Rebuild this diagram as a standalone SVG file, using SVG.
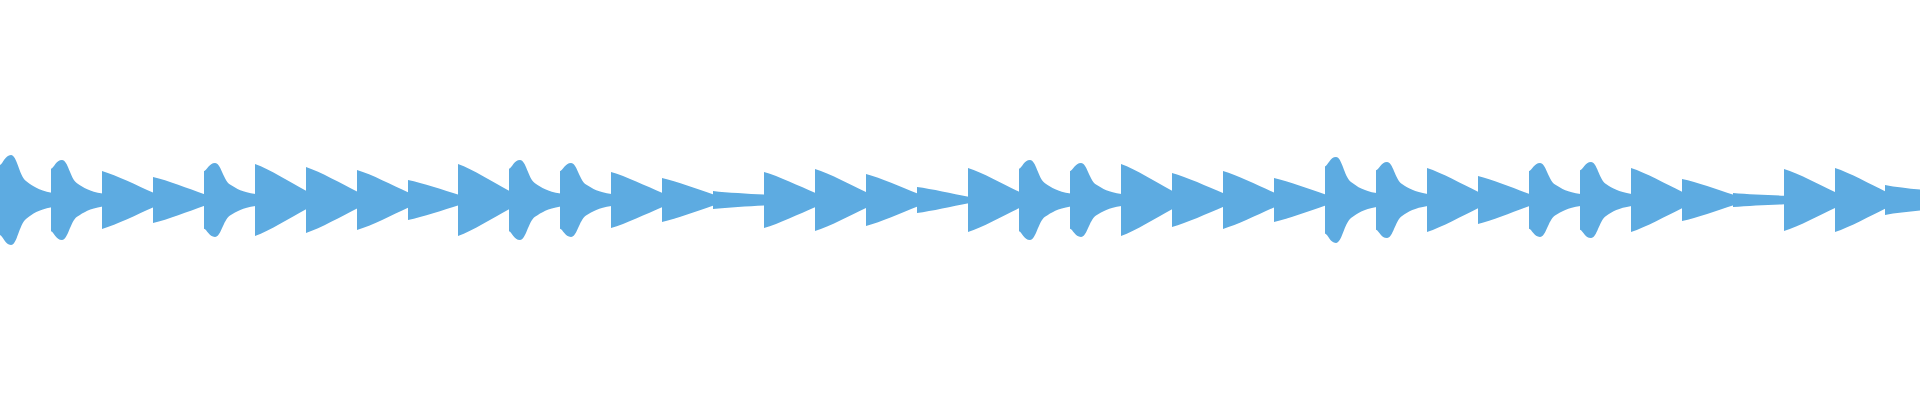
<svg xmlns="http://www.w3.org/2000/svg" width="1920" height="400" viewBox="0 0 1920 400">
<defs>
<style>.w{fill:#5dabe1}</style>
<path id="b" class="w" d="M0,-0.78 C3,-0.8 5,-1 11,-1 C17,-1 19,-0.55 26,-0.42 C33,-0.3 38,-0.22 51.5,-0.16 L51.5,0.16 C38,0.22 33,0.3 26,0.42 C19,0.55 17,1 11,1 C5,1 3,0.8 0,0.78 Z"/>
<path id="d" class="w" d="M0,-1 C15,-0.85 35,-0.5 51.5,-0.25 L51.5,0.25 C35,0.5 15,0.85 0,1 Z"/>
<path id="f" class="w" d="M0,-1 C15,-0.8 35,-0.7 51.5,-0.6 L51.5,0.6 C35,0.7 15,0.8 0,1 Z"/>
</defs>
<rect width="1920" height="400" fill="#fff"/>
<g id="wave">
<use href="#b" transform="translate(0,200) scale(1,45)"/>
<use href="#b" transform="translate(51,200) scale(1,40)"/>
<use href="#d" transform="translate(102,200) scale(1,29)"/>
<use href="#d" transform="translate(153,200) scale(1,23)"/>
<use href="#b" transform="translate(204,200) scale(1,37)"/>
<use href="#d" transform="translate(255,200) scale(1,36)"/>
<use href="#d" transform="translate(306,200) scale(1,33)"/>
<use href="#d" transform="translate(357,200) scale(1,30)"/>
<use href="#d" transform="translate(408,200) scale(1,20)"/>
<use href="#d" transform="translate(458,200) scale(1,36)"/>
<use href="#b" transform="translate(509,200) scale(1,40)"/>
<use href="#b" transform="translate(560,200) scale(1,37)"/>
<use href="#d" transform="translate(611,200) scale(1,28)"/>
<use href="#d" transform="translate(662,200) scale(1,22)"/>
<use href="#f" transform="translate(713,200) scale(1,9)"/>
<use href="#d" transform="translate(764,200) scale(1,28)"/>
<use href="#d" transform="translate(815,200) scale(1,31)"/>
<use href="#d" transform="translate(866,200) scale(1,26)"/>
<use href="#d" transform="translate(917,200) scale(1,13)"/>
<use href="#d" transform="translate(968,200) scale(1,32)"/>
<use href="#b" transform="translate(1019,200) scale(1,40)"/>
<use href="#b" transform="translate(1070,200) scale(1,37)"/>
<use href="#d" transform="translate(1121,200) scale(1,36)"/>
<use href="#d" transform="translate(1172,200) scale(1,27)"/>
<use href="#d" transform="translate(1223,200) scale(1,29)"/>
<use href="#d" transform="translate(1274,200) scale(1,22)"/>
<use href="#b" transform="translate(1325,200) scale(1,43)"/>
<use href="#b" transform="translate(1376,200) scale(1,38)"/>
<use href="#d" transform="translate(1427,200) scale(1,32)"/>
<use href="#d" transform="translate(1478,200) scale(1,24)"/>
<use href="#b" transform="translate(1529,200) scale(1,37)"/>
<use href="#b" transform="translate(1580,200) scale(1,38)"/>
<use href="#d" transform="translate(1631,200) scale(1,32)"/>
<use href="#d" transform="translate(1682,200) scale(1,21)"/>
<use href="#f" transform="translate(1733,200) scale(1,7)"/>
<use href="#d" transform="translate(1784,200) scale(1,31)"/>
<use href="#d" transform="translate(1835,200) scale(1,32)"/>
<use href="#f" transform="translate(1885,200) scale(1,15)"/>
</g>
</svg>
